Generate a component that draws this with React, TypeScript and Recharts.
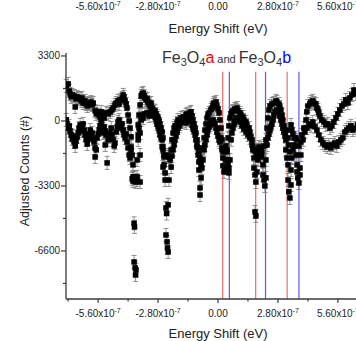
import { ErrorBar, ReferenceLine, Scatter, ScatterChart, XAxis, YAxis } from "recharts";

const FONT = '"Liberation Sans", Arial, Helvetica, sans-serif';
const AXIS_COLOR = "#3a3a3a";
const TEXT_COLOR = "#222";

// energy shift in units of 1e-7 eV, adjusted counts (#)
const upperSweep: [number, number][] = [
  [-7.09, 1780], [-7.0, 1880], [-6.95, 1520], [-6.91, 1370], [-6.86, 1220], [-6.81, 1320], [-6.72, 1270], [-6.67, 710],
  [-6.63, 1120], [-6.58, 1220], [-6.53, 1170], [-6.44, 1120], [-6.39, 1020], [-6.35, 1170], [-6.3, 910], [-6.21, 1020],
  [-6.16, 860], [-6.11, 760], [-6.07, 910], [-5.97, 860], [-5.93, 960], [-5.88, 810], [-5.83, 910], [-5.74, 510],
  [-5.69, 360], [-5.65, 460], [-5.55, 300], [-5.51, 200], [-5.46, 460], [-5.37, 250], [-5.32, 150], [-5.23, 410],
  [-5.13, 360], [-5.04, 460], [-4.95, 560], [-4.9, 660], [-4.81, 810], [-4.76, 910], [-4.67, 1020], [-4.62, 860],
  [-4.57, 1070], [-4.48, 1170], [-4.43, 1320], [-4.39, 1220], [-4.34, 1020], [-4.29, 860], [-4.25, 660], [-4.2, 300],
  [-4.15, 0], [-4.11, -360], [-4.06, -810], [-4.06, -1320], [-4.01, -1730], [-3.97, -2230], [-3.97, -2840],
  [-3.92, -5200], [-3.9, -5380], [-3.92, -7160], [-3.87, -7460], [-3.85, -7820], [-3.83, -7560],
  [-3.78, -3000], [-3.78, -1980], [-3.73, -960], [-3.73, -200], [-3.69, 300], [-3.64, 810], [-3.59, 1270], [-3.55, 1370],
  [-3.5, 1420], [-3.45, 1270], [-3.41, 1170], [-3.36, 1070], [-3.31, 1120], [-3.27, 960], [-3.22, 860], [-3.17, 760],
  [-3.13, 910], [-3.08, 660], [-3.03, 560], [-2.99, 460], [-2.94, 510], [-2.89, 360], [-2.85, 250], [-2.8, 150],
  [-2.75, 0], [-2.71, -150], [-2.66, -360], [-2.61, -560], [-2.57, -860], [-2.57, -1320], [-2.52, -1730], [-2.52, -2230],
  [-2.47, -2640], [-2.47, -3000], [-2.43, -4420], [-2.4, -4700], [-2.43, -5790], [-2.38, -6140], [-2.36, -6450],
  [-2.33, -6650], [-2.33, -4260], [-2.29, -3000], [-2.24, -1980], [-2.19, -1470], [-2.15, -960], [-2.1, -610],
  [-2.05, -360], [-2.01, -250], [-1.91, -100], [-1.87, 50], [-1.77, -50], [-1.73, 150], [-1.63, 200], [-1.54, 100],
  [-1.49, 300], [-1.45, 360], [-1.35, 250], [-1.31, 410], [-1.26, 460], [-1.21, 250], [-1.17, 50], [-1.12, -150],
  [-1.07, -360], [-1.03, -610], [-0.98, -960], [-0.98, -1320], [-0.93, -1730], [-0.89, -2080], [-0.89, -2490],
  [-0.84, -3400], [-0.84, -3760], [-0.79, -2890], [-0.75, -1980], [-0.7, -1370], [-0.65, -860], [-0.61, -460],
  [-0.56, -150], [-0.51, 150], [-0.47, 300], [-0.42, 410], [-0.33, 560], [-0.28, 660], [-0.23, 810], [-0.19, 910],
  [-0.14, 860], [-0.09, 960], [-0.05, 760], [0.0, 610], [0.05, 410], [0.09, 50], [0.14, -360], [0.19, -960],
  [0.19, -1470], [0.23, -1880], [0.23, -2280], [0.28, -2590], [0.33, -2390], [0.37, -1980], [0.42, -1470], [0.47, -860],
  [0.51, -250], [0.56, 150], [0.61, 360], [0.65, 460], [0.7, 510], [0.79, 610], [0.84, 560], [0.89, 660], [0.93, 510],
  [1.03, 410], [1.07, 300], [1.17, 200], [1.21, 50], [1.31, -50], [1.35, -200], [1.45, -360], [1.49, -560], [1.54, -810],
  [1.59, -1220], [1.63, -1470], [1.68, -1880], [1.68, -2390], [1.73, -2740], [1.77, -3100], [1.73, -4620], [1.77, -4820],
  [1.82, -2590], [1.87, -1980], [1.91, -1470], [2.01, -1370], [2.05, -1570], [2.15, -1270], [2.24, -960], [2.29, -360],
  [2.33, 150], [2.38, 560], [2.43, 760], [2.52, 860], [2.61, 910], [2.71, 1020], [2.75, 960], [2.85, 860], [2.89, 710],
  [2.94, 560], [2.99, 300], [3.03, 50], [3.08, -250], [3.13, -560], [3.17, -960], [3.17, -1470], [3.22, -1880],
  [3.27, -2230], [3.27, -3000], [3.31, -3600], [3.36, -3910], [3.41, -3250], [3.41, -2490], [3.45, -1880], [3.5, -1470],
  [3.55, -1220], [3.64, -860], [3.69, -960], [3.78, -1270], [3.87, -1070], [3.92, -710], [4.01, -360], [4.11, 50],
  [4.15, 460], [4.2, 760], [4.29, 860], [4.34, 960], [4.43, 1020], [4.48, 910], [4.57, 860], [4.62, 660], [4.67, 560],
  [4.71, 410], [4.76, 250], [4.85, 50], [4.95, -50], [5.04, -200], [5.13, -150], [5.23, -360], [5.32, -250], [5.41, -50],
  [5.51, 150], [5.6, 360], [5.69, 560], [5.79, 760], [5.88, 860], [5.97, 1070], [6.07, 910], [6.16, 1170], [6.25, 1320],
  [6.35, 1570], [6.44, 1370], [6.63, 1470], [6.81, 1320], [7.0, 1420],
];

const lowerSweep: [number, number][] = [
  [-7.09, 50], [-7.05, -150], [-7.0, -360], [-6.95, -250], [-6.91, -510], [-6.86, -710], [-6.81, -910], [-6.77, -760],
  [-6.72, -1070], [-6.67, -1270], [-6.63, -1020], [-6.58, -810], [-6.53, -610], [-6.49, -360], [-6.44, -200], [-6.39, -510],
  [-6.35, -360], [-6.3, -150], [-6.25, -460], [-6.21, -710], [-6.16, -960], [-6.11, -1170], [-6.07, -910], [-6.02, -660],
  [-5.97, -460], [-5.93, -760], [-5.88, -610], [-5.83, -910], [-5.79, -1070], [-5.74, -1370], [-5.74, -1830], [-5.69, -1470],
  [-5.65, -860], [-5.6, -660], [-5.55, -460], [-5.51, -250], [-5.46, -50], [-5.41, -360], [-5.37, -610], [-5.32, -300],
  [-5.27, -510], [-5.27, -1220], [-5.23, -710], [-5.18, -2130], [-5.13, -960], [-5.09, -810], [-5.04, -610], [-4.99, -360],
  [-4.95, -710], [-4.9, -960], [-4.85, -1270], [-4.81, -1120], [-4.76, -560], [-4.71, -300], [-4.67, -50], [-4.62, 50],
  [-4.57, -200], [-4.53, -360], [-4.48, -150], [-4.43, -460], [-4.39, -710], [-4.34, -860], [-4.29, -660], [-4.25, -1070],
  [-4.2, -1370], [-4.15, -1730], [-4.11, -1880], [-4.06, -1470], [-4.01, -2940], [-3.97, -3050], [-3.92, -2890],
  [-3.83, -3100], [-3.78, -2840], [-3.73, -710], [-3.69, -360], [-3.64, -610], [-3.64, -1730], [-3.64, -3100], [-3.59, 50],
  [-3.55, 300], [-3.5, 150], [-3.41, 360], [-3.31, 410], [-3.22, 250], [-3.13, 460], [-3.03, 300], [-2.94, 200], [-2.89, 50],
  [-2.85, -150], [-2.8, -300], [-2.75, -460], [-2.71, -710], [-2.66, -860], [-2.61, -960], [-2.61, -1320], [-2.57, -1470],
  [-2.57, -2340], [-2.52, -1830], [-2.38, -1730], [-2.29, -1830], [-2.24, -1830], [-2.19, -2340], [-2.15, -1780],
  [-2.1, -1470], [-2.05, -1220], [-2.01, -960], [-1.96, -760], [-1.91, -560], [-1.87, -360], [-1.82, -250], [-1.77, -150],
  [-1.68, -50], [-1.59, 0], [-1.49, -100], [-1.4, 50], [-1.31, 150], [-1.26, 0], [-1.21, -200], [-1.17, -360],
  [-1.12, -510], [-1.07, -710], [-1.03, -960], [-0.98, -1220], [-0.93, -1370], [-0.89, -1620], [-0.84, -1880],
  [-0.79, -2230], [-0.75, -2390], [-0.7, -1980], [-0.65, -1470], [-0.61, -1220], [-0.56, -960], [-0.51, -710],
  [-0.47, -460], [-0.42, -300], [-0.37, -200], [-0.33, -100], [-0.28, 0], [-0.23, 50], [-0.19, -50], [-0.14, -150],
  [-0.09, -360], [-0.05, -560], [0.0, -760], [0.05, -960], [0.09, -1070], [0.14, -860], [0.19, -1370], [0.23, -1570],
  [0.28, -1470], [0.33, -1470], [0.37, -1270], [0.42, -1570], [0.42, -1980], [0.47, -2230], [0.51, -2390], [0.51, -2640],
  [0.56, -1980], [0.61, -960], [0.65, -610], [0.7, -360], [0.75, -150], [0.79, 0], [0.84, 150], [0.93, 50], [1.03, -50],
  [1.12, -250], [1.21, -410], [1.31, -560], [1.4, -710], [1.49, -860], [1.59, -960], [1.63, -1320], [1.68, -1470],
  [1.77, -1570], [1.82, -1730], [1.87, -1470], [1.91, -1320], [1.96, -1470], [2.01, -1730], [2.05, -1830], [2.1, -2230],
  [2.1, -2740], [2.15, -3000], [2.19, -3300], [2.24, -2890], [2.24, -1980], [2.29, -1220], [2.33, -860], [2.38, -660],
  [2.43, -460], [2.47, -300], [2.52, -150], [2.57, 50], [2.61, 300], [2.66, 460], [2.75, 560], [2.8, 460], [2.89, 250],
  [2.94, 50], [2.99, -150], [3.03, -360], [3.08, -560], [3.13, -760], [3.22, -460], [3.27, -860], [3.31, -1220],
  [3.36, -1570], [3.41, -200], [3.45, -460], [3.5, -660], [3.55, -860], [3.59, -1270], [3.64, -1730], [3.69, -2230],
  [3.69, -2590], [3.73, -2890], [3.78, -3150], [3.83, -2740], [3.83, -2390], [3.87, -1730], [3.97, -960], [4.06, -560],
  [4.15, -360], [4.25, -150], [4.34, -250], [4.43, -50], [4.53, -300], [4.62, -460], [4.71, -710], [4.81, -960],
  [4.9, -1120], [4.99, -1220], [5.09, -1320], [5.18, -1220], [5.27, -1370], [5.37, -1220], [5.46, -1120], [5.55, -1270],
  [5.65, -1070], [5.74, -960], [5.83, -860], [5.93, -560], [6.02, -460], [6.11, -360], [6.21, -250], [6.3, -460],
  [6.39, -360], [6.53, -200], [6.72, 50], [6.91, 150],
];

const countError = 330;

const shiftDomain = [-7.1, 7.1];
const countDomain = [-9040, 3450];
const shiftTicks = [-7.0, -5.6, -4.2, -2.8, -1.4, 0, 1.4, 2.8, 4.2, 5.6, 7.0];
const shiftLabelTicks = [-5.6, -2.8, 0, 2.8, 5.6];
const countTicks = [-8250, -6600, -4950, -3300, -1650, 0, 1650, 3300];

// line positions for the two phases
const fe3o4aLines = [0.22, 1.76, 3.23];
const fe3o4bLines = [0.53, 2.22, 3.78];
const markerTop = 2500;

const toRows = (pts: [number, number][]) =>
  pts.map(([shift, counts]) => ({ shift, counts, err: countError }));

const isMajor = (v: number, step: number) => Math.abs(v / step - Math.round(v / step)) < 1e-6;

function shiftLabel(v: number) {
  if (Math.abs(v) < 1e-9) return "0.00";
  return (
    <>
      {v.toFixed(2)}x10
      <tspan dy={-4} fontSize={7}>-7</tspan>
    </>
  );
}

function BottomTick({ x, y, payload }: any) {
  const major = isMajor(payload.value, 2.8);
  return (
    <g>
      <line x1={x} x2={x} y1={y} y2={y + (major ? 4 : 2.5)} stroke={AXIS_COLOR} strokeWidth={1.2} />
      {major && (
        <text x={x} y={y + 18} textAnchor="middle" fontSize={10} fill={TEXT_COLOR} fontFamily={FONT}>
          {shiftLabel(payload.value)}
        </text>
      )}
    </g>
  );
}

function TopTick({ x, y, payload }: any) {
  return (
    <text x={x} y={y - 43} textAnchor="middle" fontSize={10} fill={TEXT_COLOR} fontFamily={FONT}>
      {shiftLabel(payload.value)}
    </text>
  );
}

function LeftTick({ x, y, payload }: any) {
  const major = isMajor(payload.value, 3300);
  return (
    <g>
      <line x1={x - (major ? 5 : 3)} x2={x} y1={y} y2={y} stroke={AXIS_COLOR} strokeWidth={1.2} />
      {major && (
        <text x={x - 6} y={y + 3.5} textAnchor="end" fontSize={10} fill={TEXT_COLOR} fontFamily={FONT}>
          {payload.value}
        </text>
      )}
    </g>
  );
}

function CountsLabel(props: any) {
  const vb = props.viewBox;
  const cx = vb.x + 25;
  const cy = vb.y + vb.height / 2 - 5;
  return (
    <text
      x={cx}
      y={cy}
      dy="0.35em"
      textAnchor="middle"
      transform={`rotate(-90 ${cx} ${cy})`}
      fontSize={12.5}
      fill={TEXT_COLOR}
      fontFamily={FONT}
    >
      Adjusted Counts (#)
    </text>
  );
}

const Square = (p: any) => (
  <rect x={p.cx - 2.75} y={p.cy - 2.75} width={5.5} height={5.5} fill="#000" />
);

export default function App() {
  const upper = toRows(upperSweep);
  const lower = toRows(lowerSweep);

  return (
    <div
      style={{
        position: "absolute",
        left: 0,
        top: 0,
        width: 356,
        height: 341,
        overflow: "hidden",
        background: "#fff",
        fontFamily: FONT,
      }}
    >
      <ScatterChart width={400} height={341} margin={{ top: 0, right: 30, bottom: 0, left: 0 }}>
        <XAxis
          xAxisId="top"
          orientation="top"
          type="number"
          dataKey="shift"
          domain={shiftDomain}
          allowDataOverflow
          ticks={shiftLabelTicks}
          interval={0}
          height={53}
          axisLine={false}
          tickLine={false}
          tickSize={0}
          tickMargin={0}
          tick={(p: any) => <TopTick {...p} />}
          label={{
            value: "Energy Shift (eV)",
            position: "insideBottom",
            offset: 20,
            fill: TEXT_COLOR,
            fontSize: 13,
            fontFamily: FONT,
          }}
        />
        <XAxis
          xAxisId="bottom"
          type="number"
          dataKey="shift"
          domain={shiftDomain}
          allowDataOverflow
          ticks={shiftTicks}
          interval={0}
          height={42}
          axisLine={{ stroke: AXIS_COLOR, strokeWidth: 1.3 }}
          tickLine={false}
          tickSize={0}
          tickMargin={0}
          tick={(p: any) => <BottomTick {...p} />}
          label={{
            value: "Energy Shift (eV)",
            position: "insideBottom",
            offset: 3,
            fill: TEXT_COLOR,
            fontSize: 13,
            fontFamily: FONT,
          }}
        />
        <YAxis
          type="number"
          dataKey="counts"
          domain={countDomain}
          allowDataOverflow
          ticks={countTicks}
          interval={0}
          width={66}
          axisLine={{ stroke: AXIS_COLOR, strokeWidth: 1.3 }}
          tickLine={false}
          tickSize={0}
          tickMargin={0}
          tick={(p: any) => <LeftTick {...p} />}
          label={(p: any) => <CountsLabel {...p} />}
        />
        {fe3o4aLines.map((v) => (
          <ReferenceLine
            key={`a${v}`}
            xAxisId="bottom"
            segment={[{ x: v, y: markerTop }, { x: v, y: countDomain[0] }]}
            stroke="#f26a6a"
            strokeWidth={1.2}
          />
        ))}
        {fe3o4bLines.map((v) => (
          <ReferenceLine
            key={`b${v}`}
            xAxisId="bottom"
            segment={[{ x: v, y: markerTop }, { x: v, y: countDomain[0] }]}
            stroke="#5a5ae6"
            strokeWidth={1.2}
          />
        ))}
        <Scatter xAxisId="bottom" data={upper} shape={Square} isAnimationActive={false}>
          <ErrorBar dataKey="err" direction="y" width={2.5} stroke="#777" strokeWidth={0.8} isAnimationActive={false} />
        </Scatter>
        <Scatter xAxisId="bottom" data={lower} shape={Square} isAnimationActive={false}>
          <ErrorBar dataKey="err" direction="y" width={2.5} stroke="#777" strokeWidth={0.8} isAnimationActive={false} />
        </Scatter>
      </ScatterChart>
      <svg
        width={356}
        height={341}
        style={{ position: "absolute", left: 0, top: 0, pointerEvents: "none" }}
      >
        <text x={162} y={62.5} fontSize={16} fill="#333" fontFamily={FONT}>
          Fe
          <tspan fontSize={11} dy={3}>3</tspan>
          <tspan dy={-3}>O</tspan>
          <tspan fontSize={11} dy={3}>4</tspan>
          <tspan dy={-3} fill="#ff0000">a</tspan>
          <tspan fontSize={11}> and </tspan>
          <tspan>Fe</tspan>
          <tspan fontSize={11} dy={3}>3</tspan>
          <tspan dy={-3}>O</tspan>
          <tspan fontSize={11} dy={3}>4</tspan>
          <tspan dy={-3} fill="#0000ff">b</tspan>
        </text>
      </svg>
    </div>
  );
}
